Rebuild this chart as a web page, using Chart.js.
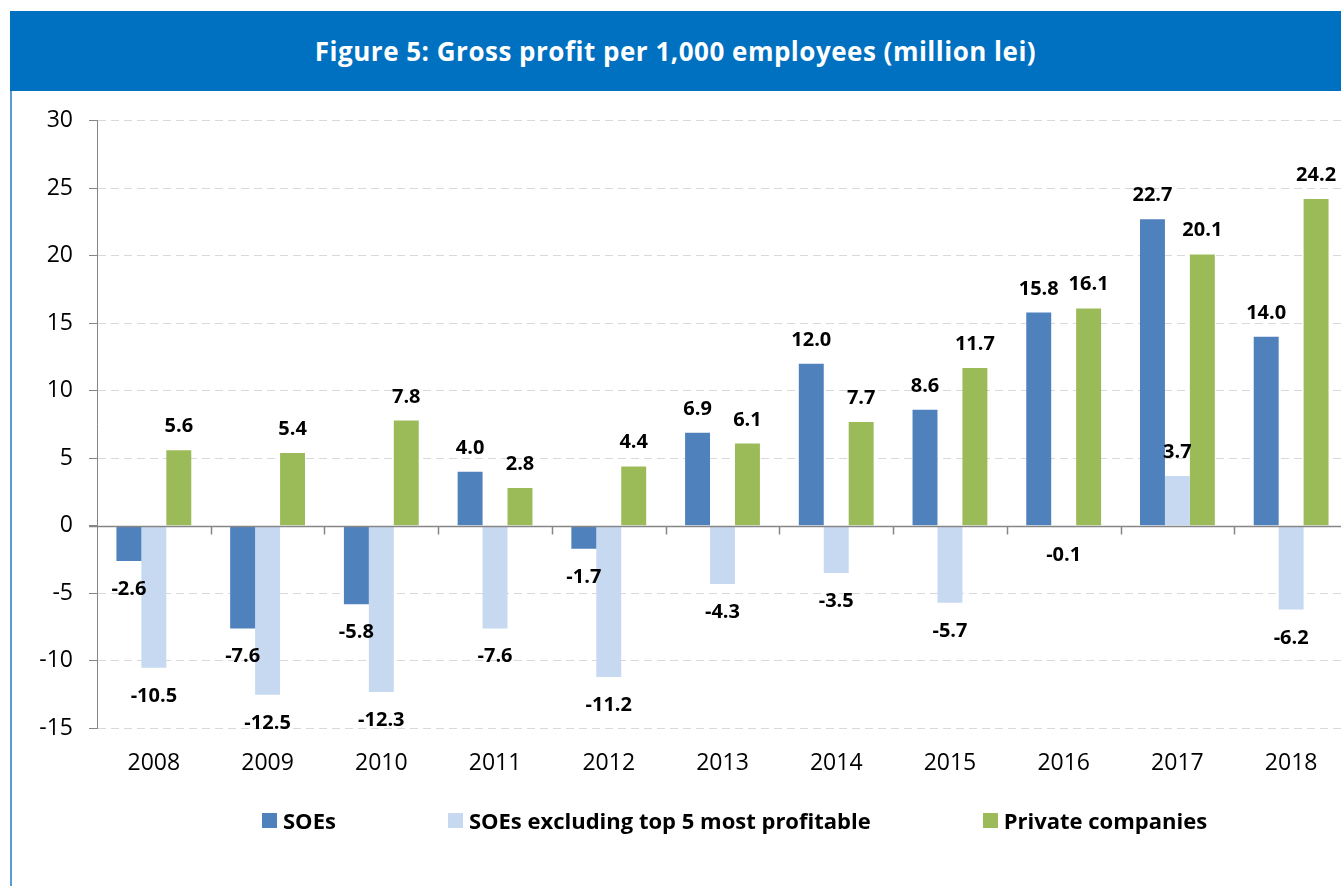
<!DOCTYPE html>
<html>
<head>
<meta charset="utf-8">
<script src="https://cdn.jsdelivr.net/npm/chart.js@4.4.0/dist/chart.umd.min.js"></script>
<style>
  html, body { margin: 0; padding: 0; width: 1341px; height: 886px; overflow: hidden; background: #fff; }
  #banner { position: absolute; left: 10px; top: 11px; width: 1331px; height: 80px; background: #0070C0;
            color: #fff; font: bold 26px "Open Sans", sans-serif; letter-spacing: 0.5px;
            display: flex; align-items: center; justify-content: center; }
  #border { position: absolute; left: 10px; top: 91px; width: 2px; height: 795px; background: #5B9BD5; }
  #chart { position: absolute; left: 11px; top: 91px; }
  #legend { position: absolute; left: 262px; top: 805px; display: flex; gap: 112px;
            font: bold 22px "Open Sans", sans-serif; color: #000; }
  #legend .item { display: flex; align-items: center; }
  #legend .box { width: 15px; height: 15px; margin-right: 6px; }
</style>
</head>
<body>
<div id="banner">Figure 5: Gross profit per 1,000 employees (million lei)</div>
<div id="border"></div>
<canvas id="chart" width="1337" height="725"></canvas>
<div id="legend"></div>
<script>
const years = ['2008','2009','2010','2011','2012','2013','2014','2015','2016','2017','2018'];
const soes = [-2.6, -7.6, -5.8, 4.0, -1.7, 6.9, 12.0, 8.6, 15.8, 22.7, 14.0];
const soesExTop5 = [-10.5, -12.5, -12.3, -7.6, -11.2, -4.3, -3.5, -5.7, -0.1, 3.7, -6.2];
const privateCos = [5.6, 5.4, 7.8, 2.8, 4.4, 6.1, 7.7, 11.7, 16.1, 20.1, 24.2];

// zero line + category tick marks like the Excel axis
const axisExtras = {
    id: 'axisExtras',
    afterDatasetsDraw(chart) {
        const { ctx, chartArea, scales: { x, y } } = chart;
        const y0 = Math.round(y.getPixelForValue(0)) + 0.5;
        ctx.save();
        ctx.strokeStyle = '#868686';
        ctx.lineWidth = 1.5;
        ctx.beginPath();
        ctx.moveTo(chartArea.left - 8, y0);
        ctx.lineTo(chartArea.right, y0);
        for (let i = 1; i <= years.length; i++) {
            const px = Math.round(x.getPixelForValue(i - 0.5)) + 0.5;
            ctx.moveTo(px, y0);
            ctx.lineTo(px, y0 + 8);
        }
        ctx.stroke();
        ctx.restore();
    }
};

// value labels at bar ends
const barLabels = {
    id: 'barLabels',
    afterDatasetsDraw(chart) {
        const ctx = chart.ctx;
        ctx.save();
        ctx.font = 'bold 20px "Open Sans"';
        ctx.fillStyle = '#000';
        ctx.textAlign = 'center';
        ctx.textBaseline = 'alphabetic';
        chart.data.datasets.forEach((ds, di) => {
            const meta = chart.getDatasetMeta(di);
            meta.data.forEach((bar, i) => {
                const v = ds.data[i];
                const ty = v >= 0 ? bar.y - 18 : bar.y + 34;
                ctx.fillText(v.toFixed(1), bar.x, ty);
            });
        });
        ctx.restore();
    }
};

const ctx = document.getElementById('chart').getContext('2d');
const myChart = new Chart(ctx, {
    type: 'bar',
    data: {
        labels: years,
        datasets: [
            { label: 'SOEs', data: soes, backgroundColor: '#4F81BD' },
            { label: 'SOEs excluding top 5 most profitable', data: soesExTop5, backgroundColor: '#C6D9F1' },
            { label: 'Private companies', data: privateCos, backgroundColor: '#9BBB59' }
        ]
    },
    options: {
        responsive: false,
        animation: false,
        datasets: { bar: { categoryPercentage: 0.658, barPercentage: 1 } },
        layout: { padding: { top: 28, bottom: 18, left: 0, right: 0 } },
        plugins: {
            legend: { display: false },
            tooltip: { enabled: false }
        },
        scales: {
            x: {
                grid: { display: false, drawTicks: false },
                border: { display: false },
                ticks: { color: '#000', font: { family: 'Open Sans', size: 23 }, padding: 21 }
            },
            y: {
                min: -15,
                max: 30,
                ticks: { stepSize: 5, color: '#000', font: { family: 'Open Sans', size: 23 }, padding: 16 },
                grid: {
                    color: c => c.tick && c.tick.value === 0 ? 'rgba(0,0,0,0)' : '#D9D9D9',
                    tickColor: '#868686',
                    tickLength: 8,
                    tickBorderDash: [1, 0]
                },
                border: { display: true, color: '#868686', width: 1, dash: [8, 5] },
                afterFit(scale) { scale.width = 86; }
            }
        }
    },
    plugins: [axisExtras, barLabels]
});

const legend = document.getElementById('legend');
myChart.data.datasets.forEach(ds => {
    const item = document.createElement('div');
    item.className = 'item';
    item.innerHTML = '<span class="box" style="background:' + ds.backgroundColor + '"></span>' + ds.label;
    legend.appendChild(item);
});
</script>
</body>
</html>
